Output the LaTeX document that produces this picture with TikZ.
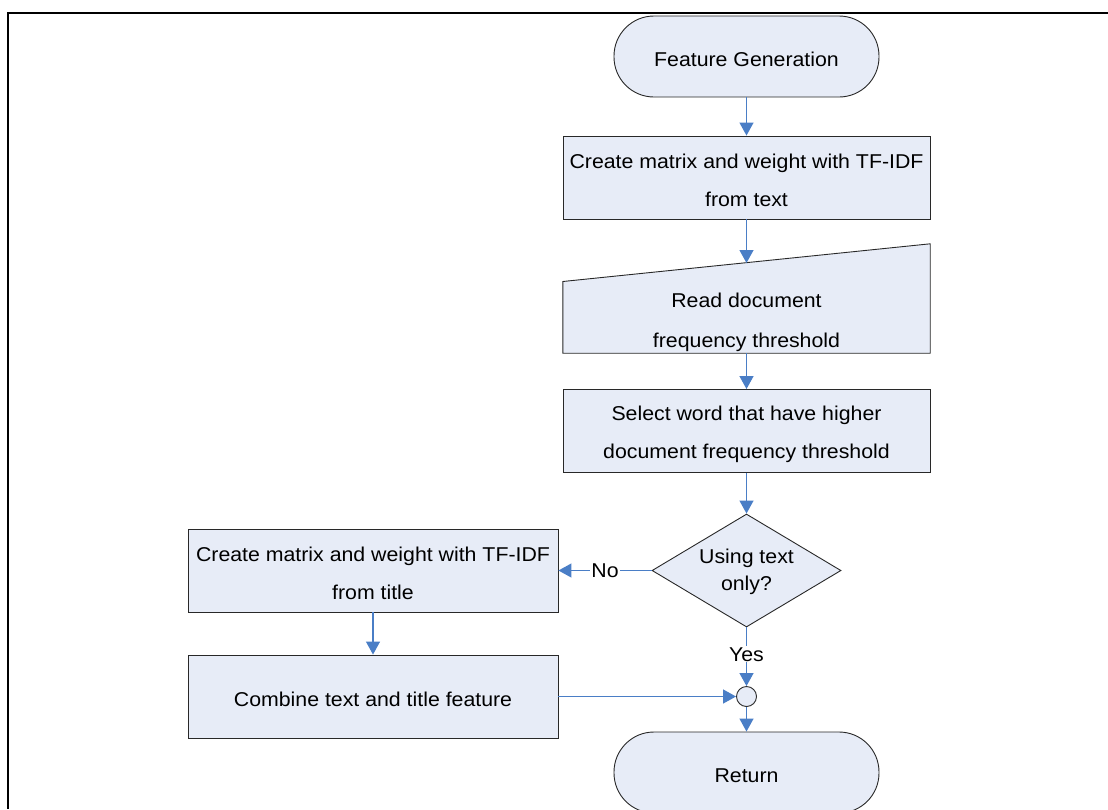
\documentclass[tikz,border=0pt]{standalone}
\usepackage{fontspec}
\setmainfont{Liberation Sans}[FakeStretch=1.065]
\usetikzlibrary{arrows.meta,shapes.geometric,calc}
\definecolor{boxfill}{RGB}{231,236,247}
\definecolor{flowblue}{RGB}{74,126,198}
\definecolor{boxline}{RGB}{40,40,40}
\newcommand{\lowstrut}{\rule{0pt}{21pt}}
\begin{document}
\begin{tikzpicture}[x=1pt,y=-1pt,
  every node/.style={font=\fontsize{20}{38}\selectfont},
  base/.style={draw=boxline, line width=0.9pt, fill=boxfill, inner sep=0pt, align=center},
  term/.style={base, rectangle, rounded corners=40pt, minimum width=265pt, minimum height=81pt},
  proc/.style={base, rectangle, minimum width=367pt, minimum height=83pt},
  proc2/.style={base, rectangle, minimum width=370pt, minimum height=83pt},
  flow/.style={draw=flowblue, line width=1.2pt, -{Triangle[width=14pt,length=13pt]}},
  lbl/.style={fill=white, inner sep=1pt}
]
\useasboundingbox (0,0) rectangle (1108,809);
% frame
\draw[line width=2pt] (1108,12.5) -- (8,12.5) -- (8,809);

\node[term] (start) at (746.5,56.5) {\lowstrut Feature Generation};
\node[proc] (create) at (746.5,177.5) {\lowstrut Create matrix and weight with TF-IDF\\from text};

% manual input
\node[minimum width=367pt, minimum height=109pt, inner sep=0pt] (read) at (746.5,298.5) {};
\draw[base] (read.south west) -- (read.south east) -- (read.north east) -- ($(read.north west)+(0,37.7)$) -- cycle;
\node[align=center, inner sep=0pt, font=\fontsize{20}{40}\selectfont] (readtxt) at (746.5,322) {Read document\\frequency threshold};
\coordinate (readtop) at (746.5,263);

\node[proc] (select) at (746.5,431) {\lowstrut Select word that have higher\\document frequency threshold};

\node[base, diamond, minimum width=189pt, minimum height=113pt, aspect=1.67] (dec) at (746.5,570.5) {};
\node[align=center, inner sep=0pt, font=\fontsize{20}{27}\selectfont] (dectxt) at (746.5,571.5) {Using text\\only?};

\node[proc2] (title) at (373,570.5) {\lowstrut Create matrix and weight with TF-IDF\\from title};
\node[proc2] (combine) at (373,696.5) {\lowstrut Combine text and title feature};

\node[base, circle, minimum width=20pt] (join) at (746.5,696.5) {};
\node[term] (ret) at (746.5,772.5) {\lowstrut Return};

\draw[flow] (start) -- (create);
\draw[flow] (create) -- (readtop);
\draw[flow] (read.south) -- (select);
\draw[flow] (select) -- (dec);
\draw[flow] (dec.west) -- node[lbl] {No} (title.east);
\draw[flow] (title) -- (combine);
\draw[flow] (dec.south) -- node[lbl, pos=0.46] {Yes} (join.north);
\draw[flow] (combine.east) -- (join.west);
\draw[flow] (join) -- (ret);
\end{tikzpicture}
\end{document}
